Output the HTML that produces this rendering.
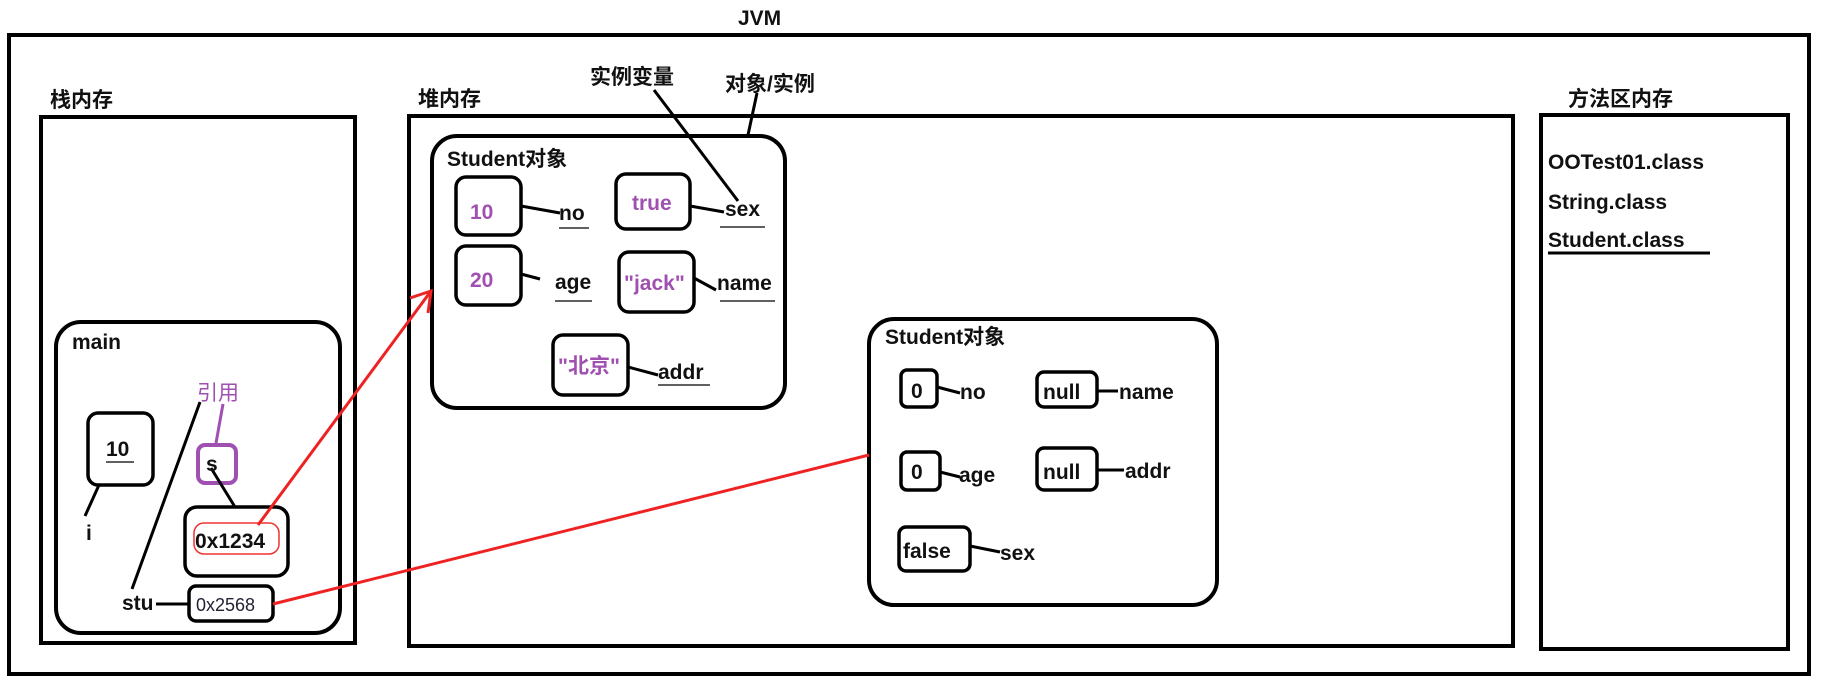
<!DOCTYPE html>
<html><head><meta charset="utf-8"><style>
html,body{margin:0;padding:0;background:#fff;}
svg{display:block;}
text{font-family:"Liberation Sans","Noto Sans CJK SC",sans-serif;font-weight:bold;font-size:21px;fill:#111;}
.p{fill:#a050b0;}
</style></head><body>
<svg width="1838" height="692" viewBox="0 0 1838 692" xmlns="http://www.w3.org/2000/svg">
<g fill="none" stroke="#000" stroke-width="4">
<rect x="9" y="35" width="1800" height="639"/>
<rect x="41" y="117" width="314" height="526"/>
<rect x="409" y="116" width="1104" height="530"/>
<rect x="1541" y="115" width="247" height="534"/>
<rect x="432" y="136" width="353" height="272" rx="25"/>
<rect x="869" y="319" width="348" height="286" rx="25"/>
<rect x="56" y="322" width="284" height="311" rx="25"/>
<g stroke-width="3.5">
<rect x="456" y="177" width="65" height="58" rx="10"/>
<rect x="616" y="174" width="74" height="55" rx="10"/>
<rect x="456" y="246" width="65" height="59" rx="10"/>
<rect x="619" y="252" width="75" height="60" rx="10"/>
<rect x="553" y="335" width="75" height="60" rx="10"/>
<rect x="901" y="370" width="36" height="37" rx="6"/>
<rect x="1037" y="372" width="60" height="35" rx="7"/>
<rect x="901" y="452" width="39" height="38" rx="6"/>
<rect x="1037" y="448" width="60" height="42" rx="7"/>
<rect x="899" y="527" width="71" height="44" rx="7"/>
<rect x="88" y="413" width="65" height="72" rx="10"/>
<rect x="185" y="507" width="103" height="69" rx="12"/>
<rect x="189" y="586" width="84" height="35" rx="7"/>
</g>
<rect x="198" y="445" width="38" height="38" rx="7" stroke="#a050b0"/>
<rect x="194" y="523" width="85" height="31" rx="10" stroke="#e33" stroke-width="1.5"/>
<g stroke-width="3">
<line x1="521" y1="206" x2="560" y2="213"/>
<line x1="690" y1="206" x2="724" y2="212"/>
<line x1="521" y1="274" x2="540" y2="279"/>
<line x1="694" y1="278" x2="716" y2="290"/>
<line x1="628" y1="367" x2="658" y2="375"/>
<line x1="937" y1="387" x2="960" y2="393"/>
<line x1="1097" y1="391" x2="1118" y2="391"/>
<line x1="940" y1="472" x2="960" y2="477"/>
<line x1="1097" y1="470" x2="1124" y2="470"/>
<line x1="970" y1="546" x2="1000" y2="552"/>
<line x1="654" y1="90" x2="738" y2="201"/>
<line x1="757" y1="93" x2="748" y2="135"/>
<line x1="99" y1="485" x2="85" y2="516"/>
<line x1="211" y1="468" x2="235" y2="507"/>
<line x1="200" y1="402" x2="132" y2="589"/>
<line x1="156" y1="604" x2="189" y2="604"/>
</g>
<line x1="223" y1="404" x2="216" y2="443" stroke="#a050b0" stroke-width="3"/>
<g stroke-width="1.2">
<line x1="559" y1="228" x2="589" y2="228"/><line x1="720" y1="227" x2="765" y2="227"/>
<line x1="555" y1="301" x2="592" y2="301"/><line x1="720" y1="301" x2="775" y2="301"/>
<line x1="658" y1="385" x2="710" y2="385"/><line x1="106" y1="462" x2="134" y2="462"/>
</g>
<line x1="1548" y1="253" x2="1710" y2="253" stroke-width="3"/>
<g stroke="#e22" stroke-width="3">
<line x1="258" y1="525" x2="431" y2="291"/>
<polyline points="410,298 431,291 428,313"/>
<line x1="273" y1="604" x2="869" y2="455"/>
</g>
</g>
<text x="738" y="25">JVM</text>
<text x="50" y="107">栈内存</text>
<text x="418" y="106">堆内存</text>
<text x="1568" y="106">方法区内存</text>
<text x="590" y="84">实例变量</text>
<text x="725" y="91">对象/实例</text>
<text x="1548" y="169">OOTest01.class</text>
<text x="1548" y="209">String.class</text>
<text x="1548" y="247">Student.class</text>
<text x="447" y="166">Student对象</text>
<text x="885" y="344">Student对象</text>
<text x="72" y="349">main</text>
<text class="p" x="470" y="219">10</text>
<text class="p" x="632" y="210">true</text>
<text class="p" x="470" y="287">20</text>
<text class="p" x="624" y="290">"jack"</text>
<text class="p" x="558" y="373">"北京"</text>
<text x="559" y="220">no</text>
<text x="725" y="216">sex</text>
<text x="555" y="289">age</text>
<text x="717" y="290">name</text>
<text x="658" y="379">addr</text>
<text x="911" y="398">0</text>
<text x="960" y="399">no</text>
<text x="1043" y="399">null</text>
<text x="1119" y="399">name</text>
<text x="911" y="479">0</text>
<text x="959" y="482">age</text>
<text x="1043" y="479">null</text>
<text x="1125" y="478">addr</text>
<text x="903" y="558">false</text>
<text x="1000" y="560">sex</text>
<text class="p" x="197" y="400" style="font-weight:normal">引用</text>
<text x="106" y="456">10</text>
<text x="206" y="471">s</text>
<text x="86" y="540">i</text>
<text x="195" y="548">0x1234</text>
<text x="122" y="610">stu</text>
<text x="196" y="611" style="font-weight:normal;font-size:18px;fill:#223">0x2568</text>
</svg>
</body></html>
